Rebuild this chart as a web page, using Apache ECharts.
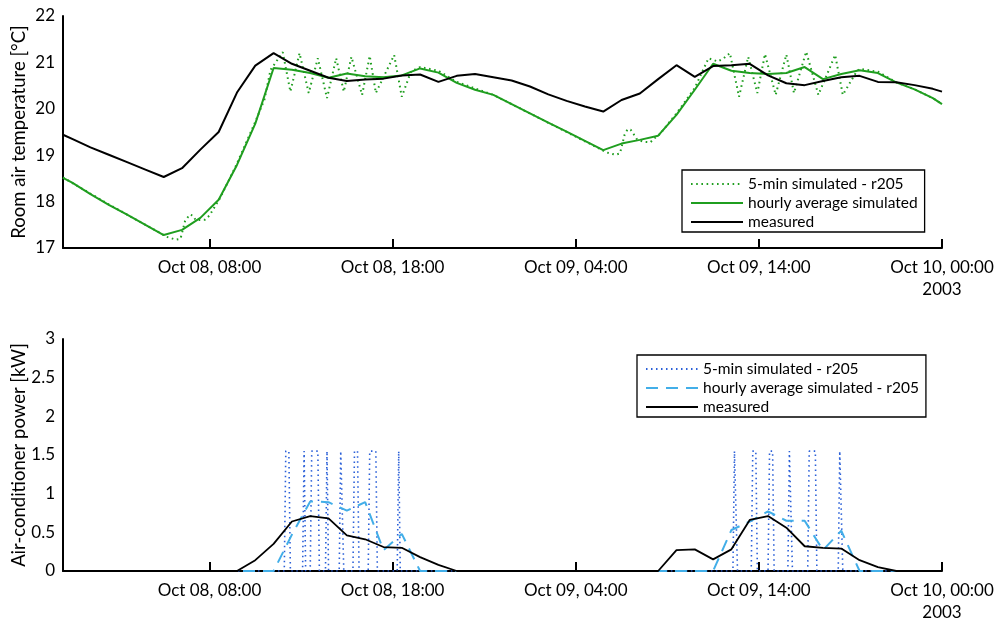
<!DOCTYPE html>
<html>
<head>
<meta charset="utf-8">
<script src="https://cdn.jsdelivr.net/npm/echarts@6/dist/echarts.min.js"></script>
<style>
  html, body { margin: 0; padding: 0; background: #fff; }
  #chart { width: 999px; height: 618px; }
</style>
</head>
<body>
<div id="chart"></div>
<script>
// ---- observation window and labelled ticks ----
const windowStart = '2003-10-08 00:00';
const windowEnd = '2003-10-10 00:00';
const tickStamps = ['2003-10-08 08:00', '2003-10-08 18:00', '2003-10-09 04:00', '2003-10-09 14:00', '2003-10-10 00:00'];

// ---- hourly series: values are hourly means placed at mid-hour (plus both window edges) ----
// Room air temperature [°C]
const measuredTemp = [
  19.44,
  19.35, 19.17, 19.01, 18.85, 18.69, 18.53, 18.72, 19.12, 19.50, 20.35, 20.93, 21.20,
  20.97, 20.82, 20.67, 20.60, 20.63, 20.65, 20.72, 20.74, 20.58, 20.71, 20.75, 20.68,
  20.61, 20.48, 20.31, 20.17, 20.05, 19.94, 20.19, 20.33, 20.64, 20.94, 20.69, 20.92,
  20.94, 20.97, 20.72, 20.55, 20.51, 20.60, 20.68, 20.71, 20.58, 20.57, 20.51, 20.43,
  20.37
];
const hourlySimTemp = [
  18.51,
  18.41, 18.16, 17.93, 17.72, 17.50, 17.28, 17.39, 17.65, 18.04, 18.79, 19.68, 20.88,
  20.84, 20.77, 20.67, 20.76, 20.70, 20.68, 20.72, 20.87, 20.78, 20.56, 20.41, 20.30,
  20.10, 19.90, 19.70, 19.51, 19.31, 19.11, 19.25, 19.33, 19.42, 19.87, 20.41, 20.97,
  20.82, 20.77, 20.75, 20.77, 20.90, 20.64, 20.75, 20.83, 20.77, 20.57, 20.42, 20.23,
  20.10
];
// Air-conditioner power [kW]
const hourlySimPower = [
  0,
  0, 0, 0, 0, 0, 0, 0, 0, 0, 0, 0, 0,
  0.47, 0.90, 0.89, 0.78, 0.89, 0.27, 0.48, 0, 0, 0, 0, 0,
  0, 0, 0, 0, 0, 0, 0, 0, 0, 0, 0, 0,
  0.53, 0.64, 0.77, 0.65, 0.65, 0.27, 0.52, 0, 0, 0, 0, 0,
  0
];
const measuredPower = [
  0,
  0, 0, 0, 0, 0, 0, 0, 0, 0, 0, 0.14, 0.35,
  0.64, 0.71, 0.68, 0.46, 0.41, 0.31, 0.30, 0.18, 0.08, 0, 0, 0,
  0, 0, 0, 0, 0, 0, 0, 0, 0, 0.27, 0.28, 0.15,
  0.28, 0.66, 0.71, 0.56, 0.32, 0.30, 0.29, 0.14, 0.05, 0, 0, 0,
  0
];

// ---- 5-minute simulation (turning points of the r205 run) ----
const fiveMinTemp = [
  ['2003-10-08 00:00', 18.52], ['2003-10-08 02:30', 17.94], ['2003-10-08 05:30', 17.28],
  ['2003-10-08 05:40', 17.24], ['2003-10-08 06:10', 17.18], ['2003-10-08 06:25', 17.20],
  ['2003-10-08 06:40', 17.58], ['2003-10-08 06:55', 17.72], ['2003-10-08 07:05', 17.70],
  ['2003-10-08 07:15', 17.60], ['2003-10-08 07:45', 17.61], ['2003-10-08 08:00', 17.70],
  ['2003-10-08 08:20', 17.92], ['2003-10-08 08:35', 18.08], ['2003-10-08 09:30', 18.82],
  ['2003-10-08 10:30', 19.72], ['2003-10-08 11:00', 20.20], ['2003-10-08 11:20', 20.84],
  ['2003-10-08 12:00', 21.22], ['2003-10-08 12:25', 20.37], ['2003-10-08 12:55', 21.20],
  ['2003-10-08 13:25', 20.34], ['2003-10-08 13:55', 21.09], ['2003-10-08 14:25', 20.23],
  ['2003-10-08 14:55', 21.09], ['2003-10-08 15:20', 20.37], ['2003-10-08 15:45', 21.12],
  ['2003-10-08 16:20', 20.30], ['2003-10-08 16:45', 21.14], ['2003-10-08 17:05', 20.34],
  ['2003-10-08 18:05', 21.16], ['2003-10-08 18:30', 20.26], ['2003-10-08 19:00', 20.80],
  ['2003-10-08 19:30', 20.90], ['2003-10-08 20:30', 20.82], ['2003-10-08 21:30', 20.58],
  ['2003-10-08 23:30', 20.30], ['2003-10-09 05:30', 19.10], ['2003-10-09 05:40', 19.06],
  ['2003-10-09 06:10', 19.01], ['2003-10-09 06:25', 19.04], ['2003-10-09 06:40', 19.44],
  ['2003-10-09 06:50', 19.56], ['2003-10-09 07:00', 19.55], ['2003-10-09 07:10', 19.45],
  ['2003-10-09 07:20', 19.35], ['2003-10-09 07:40', 19.29], ['2003-10-09 08:05', 19.28],
  ['2003-10-09 08:15', 19.35], ['2003-10-09 08:35', 19.45], ['2003-10-09 09:30', 19.90],
  ['2003-10-09 10:30', 20.45], ['2003-10-09 11:15', 21.09], ['2003-10-09 11:45', 21.02],
  ['2003-10-09 12:05', 21.09], ['2003-10-09 12:25', 21.20], ['2003-10-09 12:55', 20.26],
  ['2003-10-09 13:25', 21.12], ['2003-10-09 13:55', 20.34], ['2003-10-09 14:20', 21.18],
  ['2003-10-09 14:55', 20.30], ['2003-10-09 15:30', 21.17], ['2003-10-09 15:55', 20.34],
  ['2003-10-09 16:35', 21.23], ['2003-10-09 17:15', 20.30], ['2003-10-09 18:10', 21.16],
  ['2003-10-09 18:35', 20.30], ['2003-10-09 19:20', 20.80], ['2003-10-09 19:30', 20.86],
  ['2003-10-09 20:30', 20.80], ['2003-10-09 21:30', 20.57], ['2003-10-09 22:30', 20.42],
  ['2003-10-09 23:30', 20.23], ['2003-10-10 00:00', 20.10]
];
// compressor on-periods of the 5-minute run and its rated draw
const fiveMinPulses = [
  ['2003-10-08 12:05', '2003-10-08 12:25'], ['2003-10-08 13:05', '2003-10-08 13:15'],
  ['2003-10-08 13:30', '2003-10-08 14:00'], ['2003-10-08 14:20', '2003-10-08 14:30'],
  ['2003-10-08 15:05', '2003-10-08 15:20'], ['2003-10-08 15:50', '2003-10-08 16:10'],
  ['2003-10-08 16:40', '2003-10-08 17:10'], ['2003-10-08 18:15', '2003-10-08 18:25'],
  ['2003-10-09 12:35', '2003-10-09 12:50'], ['2003-10-09 13:35', '2003-10-09 13:55'],
  ['2003-10-09 14:30', '2003-10-09 14:50'], ['2003-10-09 15:35', '2003-10-09 15:50'],
  ['2003-10-09 16:40', '2003-10-09 17:10'], ['2003-10-09 18:20', '2003-10-09 18:35']
];
const pulseLevel = 1.55;

// ---- helpers ----
const MONTHS = ['Jan','Feb','Mar','Apr','May','Jun','Jul','Aug','Sep','Oct','Nov','Dec'];
const pad = n => String(n).padStart(2, '0');
function ts(s) {
  const [d, t] = s.split(' ');
  const [Y, M, D] = d.split('-').map(Number);
  const [h, m] = t.split(':').map(Number);
  return new Date(Y, M - 1, D, h, m).getTime();
}
const HOUR = 3600e3, STEP = 5 * 60e3;
const t0 = ts(windowStart), t1 = ts(windowEnd);

// time stamps of the hourly means: window start, each mid-hour, window end
const hourlyStamps = [t0];
for (let t = t0 + HOUR / 2; t < t1; t += HOUR) hourlyStamps.push(t);
hourlyStamps.push(t1);
const pair = vals => vals.map((v, i) => [hourlyStamps[i], v]);

// 5-minute power trace: off between on-periods, one step to switch
const fiveMinPower = [[t0, 0]];
fiveMinPulses.forEach(([a, b]) => {
  fiveMinPower.push([ts(a), 0], [ts(a) + STEP, pulseLevel], [ts(b) - STEP, pulseLevel], [ts(b), 0]);
});
fiveMinPower.push([t1, 0]);

function tickLabel(v) {
  const d = new Date(v);
  let s = MONTHS[d.getMonth()] + ' ' + pad(d.getDate()) + ', ' + pad(d.getHours()) + ':' + pad(d.getMinutes());
  if (Math.abs(v - t1) < 1000) s += '\n' + d.getFullYear();
  return s;
}

const FONT = 'Lato';
const FS = 17;
const ink = '#000';
const tickVals = tickStamps.map(ts);

function xAxisFor(gridIndex) {
  return {
    type: 'value', gridIndex, min: t0, max: t1,
    axisLine: { lineStyle: { color: ink, width: 2 } },
    axisTick: { show: true, inside: true, length: 9, lineStyle: { color: ink, width: 2 }, customValues: tickVals },
    axisLabel: { color: ink, fontFamily: FONT, fontSize: FS, margin: 9, lineHeight: 22,
                 customValues: tickVals, formatter: tickLabel },
    splitLine: { show: false }, minorTick: { show: false }
  };
}
function yAxisFor(gridIndex, name, min, max, interval) {
  return {
    type: 'value', gridIndex, min, max, interval, name,
    nameLocation: 'middle', nameGap: 34, nameMoveOverlap: false,
    nameTextStyle: { color: ink, fontFamily: FONT, fontSize: 18.5 },
    axisLine: { show: true, lineStyle: { color: ink, width: 2 } },
    axisTick: { show: false },
    axisLabel: { color: ink, fontFamily: FONT, fontSize: FS, margin: 8 },
    splitLine: { show: false }
  };
}
function legendAt(left, top, names) {
  return {
    data: names, orient: 'vertical', left, top,
    itemWidth: 52, itemHeight: 12, itemGap: 3,
    padding: [6, 7, 2, 8],
    backgroundColor: '#fff', borderColor: ink, borderWidth: 1.3,
    itemStyle: { opacity: 0 },
    textStyle: { color: ink, fontFamily: FONT, fontSize: 15.5 },
    selectedMode: false
  };
}

const green = '#1f9e1f';
const option = {
  animation: false,
  backgroundColor: '#fff',
  grid: [
    { left: 63, top: 16, right: 57, height: 232, outerBoundsMode: 'none' },
    { left: 63, top: 339, right: 57, height: 232, outerBoundsMode: 'none' }
  ],
  xAxis: [xAxisFor(0), xAxisFor(1)],
  yAxis: [
    yAxisFor(0, 'Room air temperature [°C]', 17, 22, 1),
    yAxisFor(1, 'Air-conditioner power [kW]', 0, 3, 0.5)
  ],
  legend: [
    legendAt(682, 170, ['5-min simulated - r205', 'hourly average simulated', 'measured']),
    legendAt(637, 355, ['5-min simulated - r205 ', 'hourly average simulated - r205', 'measured '])
  ],
  series: [
    { name: '5-min simulated - r205', type: 'line', xAxisIndex: 0, yAxisIndex: 0,
      data: fiveMinTemp.map(([t, v]) => [ts(t), v]), symbol: 'circle', showSymbol: false,
      lineStyle: { color: green, width: 2, type: [1.6, 3.6] }, itemStyle: { color: green, opacity: 0 } },
    { name: 'hourly average simulated', type: 'line', xAxisIndex: 0, yAxisIndex: 0,
      data: pair(hourlySimTemp), symbol: 'circle', showSymbol: false,
      lineStyle: { color: green, width: 2 }, itemStyle: { color: green, opacity: 0 } },
    { name: 'measured', type: 'line', xAxisIndex: 0, yAxisIndex: 0,
      data: pair(measuredTemp), symbol: 'circle', showSymbol: false,
      lineStyle: { color: '#000', width: 2 }, itemStyle: { color: '#000', opacity: 0 } },

    { name: '5-min simulated - r205 ', type: 'line', xAxisIndex: 1, yAxisIndex: 1,
      data: fiveMinPower, symbol: 'circle', showSymbol: false,
      lineStyle: { color: '#2a5fd8', width: 1.6, type: [1.5, 3.5] }, itemStyle: { color: '#2a5fd8', opacity: 0 } },
    { name: 'hourly average simulated - r205', type: 'line', xAxisIndex: 1, yAxisIndex: 1,
      data: pair(hourlySimPower), symbol: 'circle', showSymbol: false,
      lineStyle: { color: '#42aee8', width: 2, type: [12, 8] }, itemStyle: { color: '#42aee8', opacity: 0 } },
    { name: 'measured ', type: 'line', xAxisIndex: 1, yAxisIndex: 1,
      data: pair(measuredPower), symbol: 'circle', showSymbol: false,
      lineStyle: { color: '#000', width: 1.8 }, itemStyle: { color: '#000', opacity: 0 } }
  ]
};

const chart = echarts.init(document.getElementById('chart'), null, { renderer: 'canvas' });
chart.setOption(option);
</script>
</body>
</html>
